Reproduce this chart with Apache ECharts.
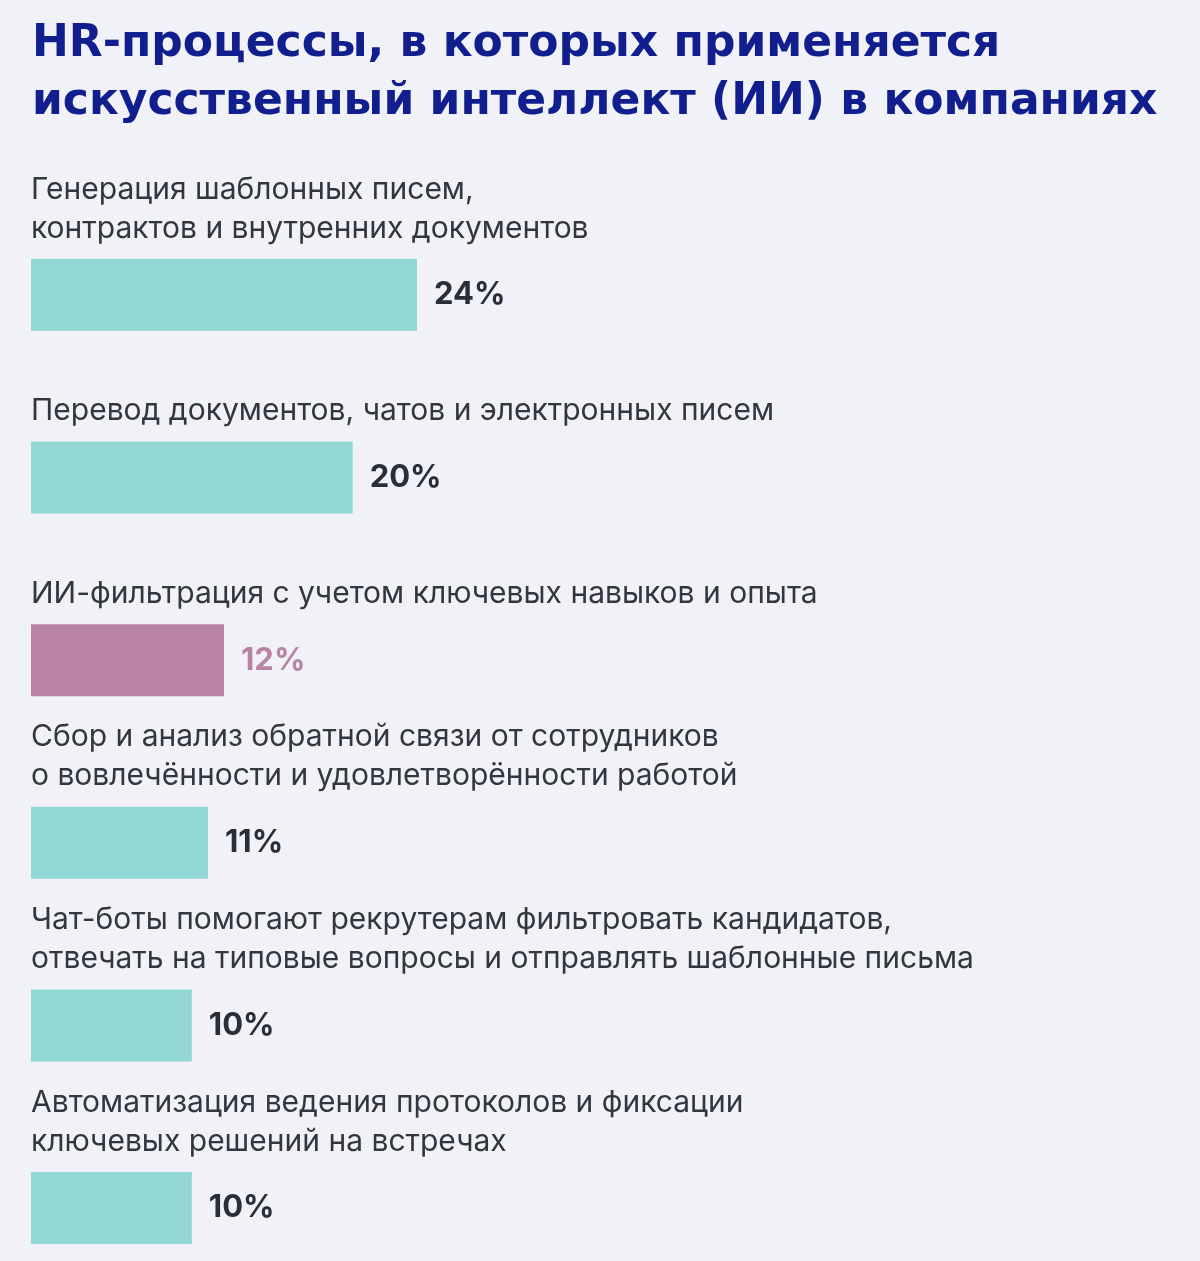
<!DOCTYPE html>
<html>
<head>
<meta charset="utf-8">
<title>HR-процессы и ИИ</title>
<script src="https://cdn.jsdelivr.net/npm/echarts@6/dist/echarts.min.js"></script>
<style>
  html, body { margin: 0; padding: 0; background: #f1f2f7; }
  #chart { width: 1200px; height: 1261px; }
</style>
</head>
<body>
<div id="chart"></div>
<script>
// данные
var categories = [
  'Генерация шаблонных писем,\nконтрактов и внутренних документов',
  'Перевод документов, чатов и электронных писем',
  'ИИ-фильтрация с учетом ключевых навыков и опыта',
  'Сбор и анализ обратной связи от сотрудников\nо вовлечённости и удовлетворённости работой',
  'Чат-боты помогают рекрутерам фильтровать кандидатов,\nотвечать на типовые вопросы и отправлять шаблонные письма',
  'Автоматизация ведения протоколов и фиксации\nключевых решений на встречах'
];
var values = [24, 20, 12, 11, 10, 10];

var titleText = 'HR-процессы, в которых применяется\nискусственный интеллект (ИИ) в компаниях';

// оформление
var baseColor = '#93d7d5';
var accentColor = '#b983a3';
var accentIndex = 2;
var font = 'Inter, "Liberation Sans", Arial, sans-serif';

var chart = echarts.init(document.getElementById('chart'), null, { renderer: 'canvas' });

var barData = values.map(function (v, i) {
  var hl = i === accentIndex;
  return {
    value: v,
    itemStyle: { color: hl ? accentColor : baseColor },
    label: { color: hl ? accentColor : '#2b2d38' }
  };
});

var option = {
  backgroundColor: '#f1f2f7',
  animation: false,
  title: {
    text: titleText,
    left: 32,
    top: 16,
    padding: 0,
    textStyle: {
      fontFamily: '"DejaVu Sans", sans-serif',
      fontSize: 44,
      fontWeight: 'bold',
      color: '#111e8d',
      lineHeight: 58
    }
  },
  // центры первой и последней полосы совпадают с краями сетки
  grid: {
    left: 31,
    top: 295,
    width: 965,
    height: 913
  },
  xAxis: {
    type: 'value',
    min: 0,
    max: 60,
    show: false
  },
  yAxis: {
    type: 'category',
    data: categories,
    inverse: true,
    boundaryGap: false,
    show: false
  },
  series: [
    {
      // подписи категорий над столбцами
      type: 'bar',
      data: values,
      barWidth: 72,
      clip: false,
      silent: true,
      itemStyle: { color: 'rgba(0,0,0,0)' },
      label: {
        show: true,
        position: [0, -11],
        align: 'left',
        verticalAlign: 'bottom',
        formatter: function (p) { return p.name; },
        fontFamily: font,
        fontSize: 30,
        lineHeight: 39,
        color: '#34363f'
      }
    },
    {
      type: 'bar',
      data: barData,
      barWidth: 72,
      barGap: '-100%',
      clip: false,
      label: {
        show: true,
        position: 'right',
        distance: 17,
        formatter: '{c}%',
        fontFamily: font,
        fontSize: 31,
        fontWeight: 'bold'
      }
    }
  ]
};

chart.setOption(option);
</script>
</body>
</html>
